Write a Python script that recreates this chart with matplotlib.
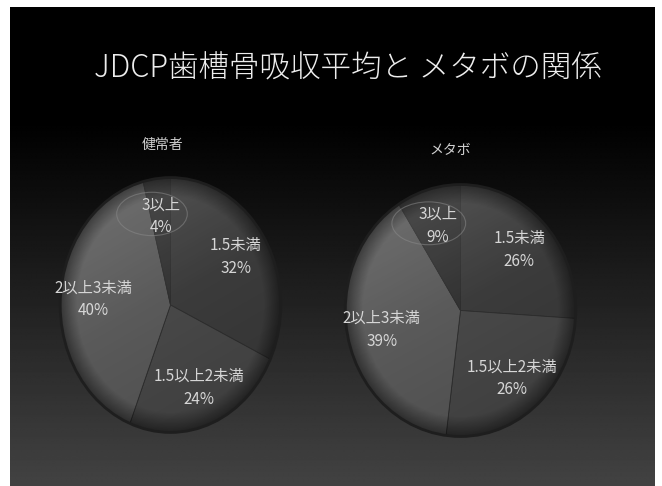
import numpy as np
import matplotlib
matplotlib.use("Agg")
import matplotlib.pyplot as plt
from matplotlib.patches import Circle, Ellipse

plt.rcParams["font.family"] = ["Noto Sans CJK JP", "DejaVu Sans"]

TITLE = "JDCP歯槽骨吸収平均と メタボの関係"
CATEGORIES = ["1.5未満", "1.5以上2未満", "2以上3未満", "3以上"]
GROUPS = ["健常者", "メタボ"]
HEALTHY = [32, 24, 40, 4]
METABO = [26, 26, 39, 9]

SLICE_COLORS = ["#3b3b3b", "#484848", "#595959", "#323232"]
W, H = 662, 486


def to_fig(x0, y0, x1, y1):
    # pixel box (top-left origin) -> figure fraction rect
    return [x0 / W, 1 - y1 / H, (x1 - x0) / W, (y1 - y0) / H]


def overlay(ax, rgba, clip):
    im = ax.imshow(rgba, extent=(-1, 1, -1, 1), aspect="auto", zorder=2)
    im.set_clip_path(clip)


def draw_pie(fig, box, values, title, title_xy, bg):
    ax = fig.add_axes(to_fig(*box))
    labels = [f"{c}\n{v}%" for c, v in zip(CATEGORIES, values)]
    wedges, texts = ax.pie(values, labels=labels, colors=SLICE_COLORS,
                           startangle=90, counterclock=False, radius=1.0,
                           labeldistance=0.7,
                           wedgeprops=dict(edgecolor="#2e2e2e", linewidth=0.6,
                                           joinstyle="bevel"),
                           textprops=dict(color="#d6d6d6", fontsize=11,
                                          linespacing=1.45))
    for t in texts:
        t.set_ha("center")
        t.set_va("center")
    ax.set_aspect("auto")
    ax.set_xlim(-1.02, 1.02)
    ax.set_ylim(-1.02, 1.02)
    ax.axis("off")

    clip = Circle((0, 0), 1.0, transform=ax.transData)
    yy = np.linspace(1, -1, 200)[:, None]
    xx = np.linspace(-1, 1, 200)[None, :]

    # top-left light, bottom-right dark
    light = np.clip(0.5 * yy - 0.25 * xx, -1, 1)
    glow = np.zeros((200, 200, 4))
    glow[..., :3] = (light > 0)[..., None] * 1.0
    glow[..., 3] = np.abs(light) * 0.22
    overlay(ax, glow, clip)

    # darker rim toward the edge
    rr = np.sqrt(xx ** 2 + yy ** 2)
    rim = np.zeros((200, 200, 4))
    rim[..., 3] = np.clip((rr - 0.85) / 0.15, 0, 1) * 0.45
    overlay(ax, rim, clip)

    ax.add_patch(Circle((0, 0), 1.0, fill=False, edgecolor="#1e1e1e",
                        linewidth=2.0, zorder=3))

    # faint ring highlighting the smallest slice label
    tx, ty = texts[-1].get_position()
    ax.add_patch(Ellipse((tx - 0.08, ty + 0.02), 0.64, 0.34, fill=False,
                         edgecolor="#8a8a8a", linewidth=0.8, alpha=0.55,
                         zorder=3))
    for t in texts:
        t.set_zorder(4)

    bg.text(title_xy[0], title_xy[1], title, color="#cfcfcf", fontsize=10,
            ha="center", va="center")


fig = plt.figure(figsize=(W / 100, H / 100), dpi=100, facecolor="white")
bg = fig.add_axes([0, 0, 1, 1])
bg.set_xlim(0, W)
bg.set_ylim(H, 0)
bg.axis("off")

# slide background: black on top fading into dark grey at the bottom
ys = np.linspace(8, H, 300)
grad = np.clip((ys - 120) / (H - 120), 0, 1) * 0.26
bg.imshow(np.repeat(grad[:, None], 2, axis=1), cmap="gray", vmin=0, vmax=1,
          extent=(10, 655, H, 8), aspect="auto", interpolation="bilinear")

bg.text(348, 69, TITLE, color="#ededed", fontsize=22, fontweight="light",
        ha="center", va="center")

draw_pie(fig, (58, 175, 283, 435), HEALTHY, GROUPS[0], (162, 145), bg)
draw_pie(fig, (343, 182, 578, 439), METABO, GROUPS[1], (450, 150), bg)

fig.savefig("out.png", dpi=100, facecolor="white")
